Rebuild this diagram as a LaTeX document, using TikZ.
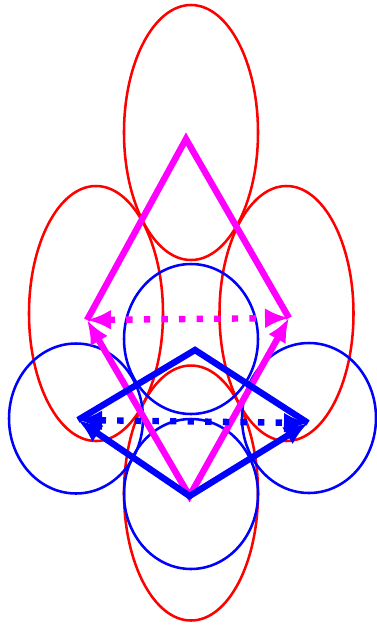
\documentclass[tikz,border=0pt]{standalone}
\usetikzlibrary{arrows.meta}
\definecolor{mag}{RGB}{255,0,255}

\begin{document}
\begin{tikzpicture}[x=0.75pt,y=-0.75pt,
    cell/.style={line width=1.9pt},
    edge/.style={line width=4.8pt,line join=miter},
    link/.style={line width=4.8pt,dash pattern=on 4.8pt off 8.4pt},
    tips/.style={{Latex[length=18pt,width=15pt]}-{Latex[length=18pt,width=15pt]}}]
        \useasboundingbox (0,0) rectangle (376,626);

        % Ellipses (red) and circles (blue)
        \coordinate (E1) at (191,132.5);
        \coordinate (E2) at (96,313.5);
        \coordinate (E3) at (286.5,313.5);
        \coordinate (E4) at (191,493);
        \coordinate (C1) at (191,339);
        \coordinate (C2) at (76,418.5);
        \coordinate (C3) at (309,418);
        \coordinate (C4) at (191,494);

        \foreach \e in {E1,E2,E3,E4}
          \draw[cell,red] (\e) ellipse [x radius=67, y radius=127.5];
        \foreach \c in {C1,C2,C3,C4}
          \draw[cell,blue] (\c) ellipse [x radius=67, y radius=75];

        % Magenta quadrilateral
        \coordinate (MT) at (186,139);  % top
        \coordinate (ML) at (87,320);   % left
        \coordinate (MR) at (289,318);  % right
        \coordinate (MB) at (189.5,496);  % bottom

        \draw[edge,mag] (ML) -- (MT) -- (MR);
        \draw[edge,mag,tips] (ML) -- (MB) -- (MR);
        \draw[link,mag,tips] (ML) -- (MR);

        % Blue quadrilateral
        \coordinate (BT) at (195,350);  % top
        \coordinate (BL) at (78,420);   % left
        \coordinate (BR) at (308,423);  % right
        \coordinate (BB) at (189.5,496);  % bottom

        \draw[edge,blue] (BL) -- (BT) -- (BR);
        \draw[edge,blue,tips] (BL) -- (BB) -- (BR);
        \draw[link,blue,tips] (BL) -- (BR);
      \end{tikzpicture}
\end{document}
